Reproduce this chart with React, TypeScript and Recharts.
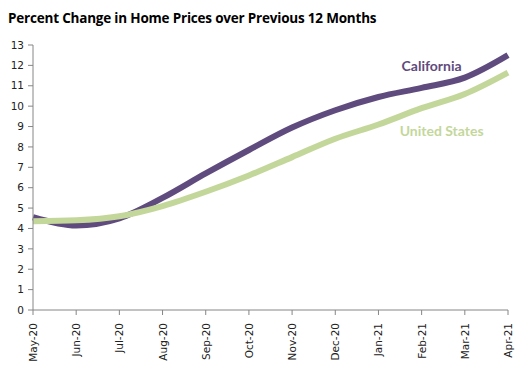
import React from "react";
import { LineChart, Line, XAxis, YAxis, LabelList } from "recharts";

const months = ["May-20", "Jun-20", "Jul-20", "Aug-20", "Sep-20", "Oct-20", "Nov-20", "Dec-20", "Jan-21", "Feb-21", "Mar-21", "Apr-21"];
const california = [4.55, 4.15, 4.5, 5.5, 6.7, 7.85, 8.95, 9.8, 10.45, 10.9, 11.4, 12.5];
const unitedStates = [4.35, 4.4, 4.6, 5.1, 5.8, 6.6, 7.5, 8.4, 9.1, 9.9, 10.6, 11.65];
const yTicks = [0, 1, 2, 3, 4, 5, 6, 7, 8, 9, 10, 11, 12, 13];

const data = months.map((m, i) => ({ month: m, ca: california[i], us: unitedStates[i] }));

const PURPLE = "#5F4B7D";
const GREEN = "#C4D79B";
const AXIS = "#868686";

const XTick = (props: any) => {
  const { x, y, payload } = props;
  return (
    <g transform={`translate(${x},${y + 6})`}>
      <text transform="rotate(-90)" textAnchor="end" dominantBaseline="central" fontSize={10.5} fill="#222" fontFamily="DejaVu Sans, Verdana, sans-serif">
        {payload.value}
      </text>
    </g>
  );
};

const seriesLabel = (text: string, color: string, idx: number, dx: number, dy: number) => (props: any) => {
  const { x, y, index } = props;
  if (index !== idx) return null;
  return (
    <text x={x + dx} y={y + dy} fill={color} fontSize={14} fontWeight="bold" fontFamily="Lato, 'Open Sans', sans-serif" textAnchor="middle">
      {text}
    </text>
  );
};

export default function App() {
  return (
    <div style={{ position: "fixed", left: 0, top: 0, width: 529, height: 366, background: "#fff" }}>
      <div style={{ position: "absolute", left: 8, top: 9, fontFamily: "'Open Sans', Lato, sans-serif", fontWeight: "bold", fontSize: 13.5, color: "#000", letterSpacing: -0.2 }}>
        Percent Change in Home Prices over Previous 12 Months
      </div>
      <LineChart width={529} height={366} data={data} margin={{ top: 45, right: 21, bottom: 0, left: 0 }}>
        <XAxis
          dataKey="month"
          interval={0}
          height={56}
          stroke={AXIS}
          tickLine={{ stroke: AXIS }}
          tickSize={5}
          tick={<XTick />}
        />
        <YAxis
          domain={[0, 13]}
          ticks={yTicks}
          interval={0}
          width={33}
          stroke={AXIS}
          tickLine={{ stroke: AXIS }}
          tickSize={5}
          tick={{ fontSize: 10.5, fill: "#222", fontFamily: "DejaVu Sans, Verdana, sans-serif", dx: -2 }}
        />
        <Line type="monotone" dataKey="ca" stroke={PURPLE} strokeWidth={6} dot={false} isAnimationActive={false}>
          <LabelList dataKey="ca" content={seriesLabel("California", PURPLE, 9, 10, -17)} />
        </Line>
        <Line type="monotone" dataKey="us" stroke={GREEN} strokeWidth={6} dot={false} isAnimationActive={false}>
          <LabelList dataKey="us" content={seriesLabel("United States", GREEN, 9, 20, 28)} />
        </Line>
      </LineChart>
    </div>
  );
}
